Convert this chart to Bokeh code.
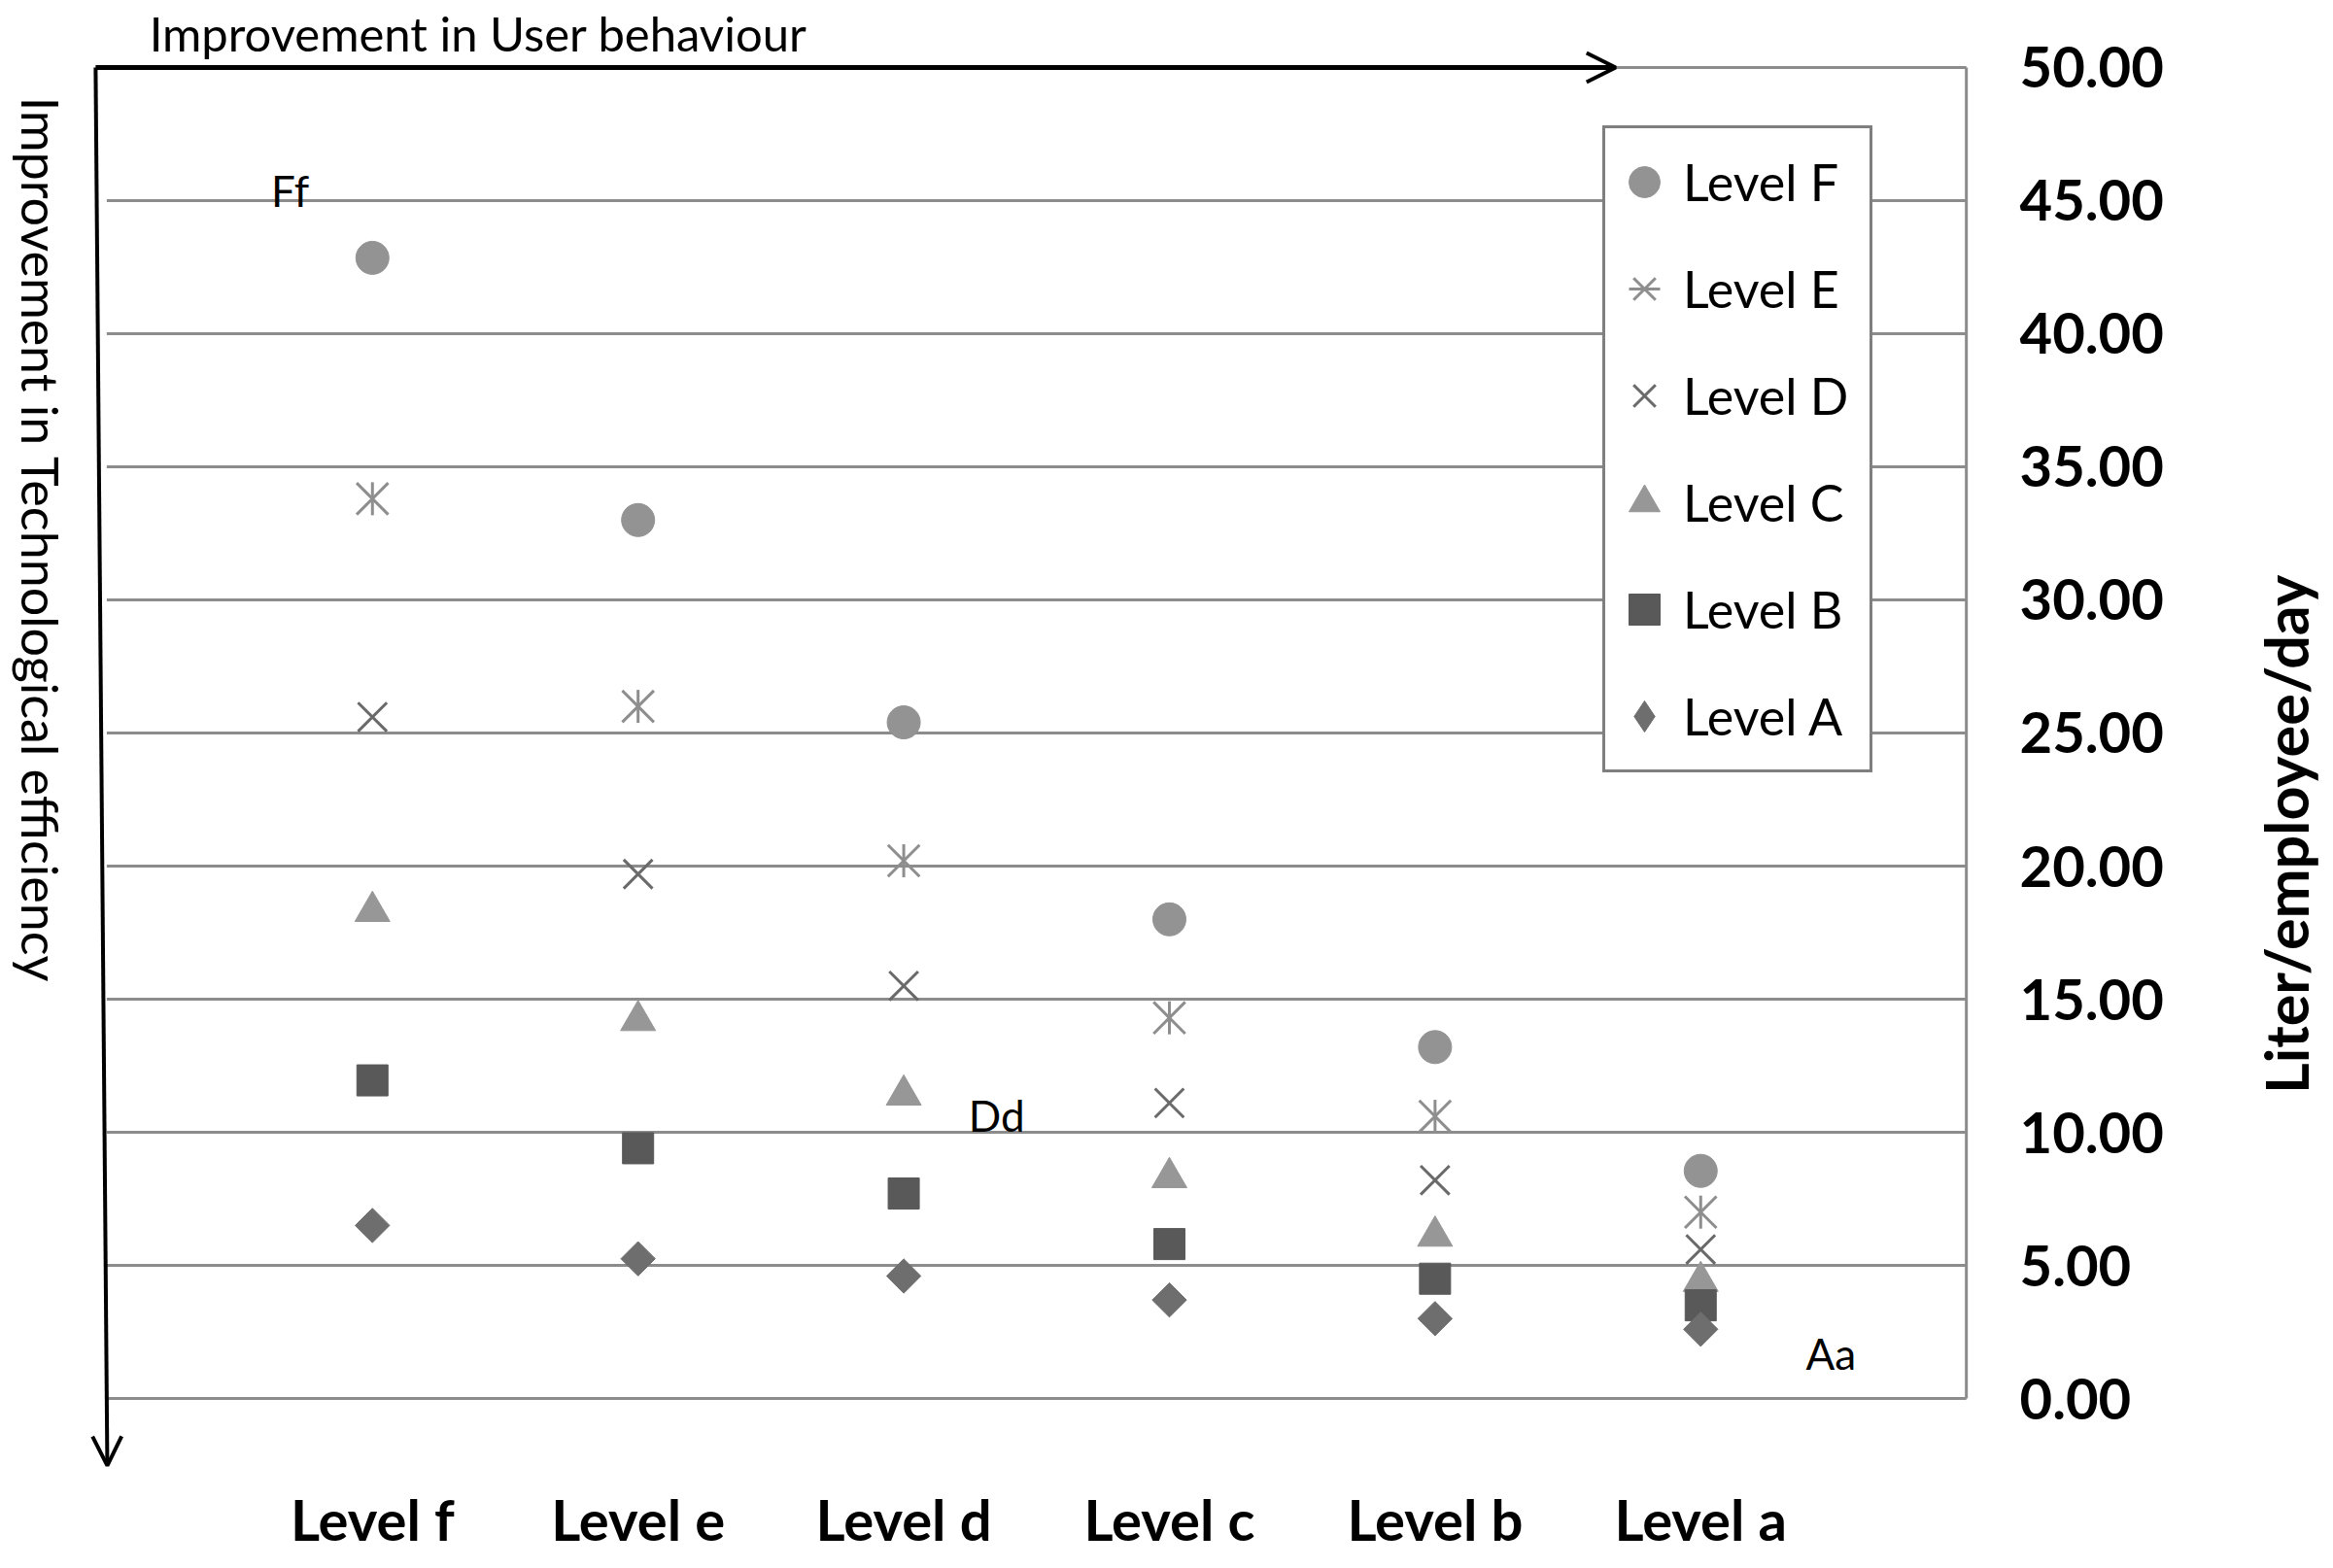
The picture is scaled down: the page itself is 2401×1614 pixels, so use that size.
import math
from bokeh.plotting import figure
from bokeh.layouts import row
from bokeh.models import (Range1d, FixedTicker, NumeralTickFormatter, Label, Arrow,
                          OpenHead, Legend, LegendItem, ColumnDataSource)
from bokeh.embed import file_html
from bokeh.resources import INLINE

# ---- data ----
categories = ["Level f", "Level e", "Level d", "Level c", "Level b", "Level a"]
level_F = [42.85, 33.0, 25.4, 18.0, 13.2, 8.55]
level_E = [33.8, 26.0, 20.2, 14.3, 10.6, 7.0]
level_D = [25.6, 19.7, 15.5, 11.1, 8.2, 5.6]
level_C = [18.3, 14.2, 11.4, 8.3, 6.1, 4.4]
level_B = [11.95, 9.4, 7.7, 5.8, 4.5, 3.5]
level_A = [6.5, 5.25, 4.6, 3.7, 3.0, 2.6]
y_ticks = [0, 5, 10, 15, 20, 25, 30, 35, 40, 45, 50]
y_title = "Liter/employee/day"

FONT = "Lato"
x_idx = list(range(1, len(categories) + 1))
x_lo, x_hi = 0, len(categories) + 1          # plotting area in data units
y_lo, y_hi = y_ticks[0], y_ticks[-1]

W_MAIN, W_SIDE, H = 2303, 90, 1606
p = figure(width=W_MAIN, height=H, output_backend="svg", toolbar_location=None,
           x_range=Range1d(-0.4001, 7.025), y_range=Range1d(-2.591, 52.518),
           y_axis_location="right",
           min_border_left=0, min_border_top=0, min_border_right=273,
           min_border_bottom=96)
p.title.visible = False
p.outline_line_color = None
p.background_fill_color = "white"
p.border_fill_color = "white"
p.xgrid.visible = False
p.ygrid.visible = False

# axes
xa = p.xaxis[0]
xa.ticker = FixedTicker(ticks=x_idx)
xa.major_label_overrides = {i: c for i, c in zip(x_idx, categories)}
xa.axis_line_color = None
xa.major_tick_line_color = None
xa.minor_tick_line_color = None
xa.major_tick_out = 0
xa.major_label_standoff = 18
xa.major_label_text_font = FONT
xa.major_label_text_font_style = "bold"
xa.major_label_text_font_size = "58px"
xa.major_label_text_color = "black"

ya = p.yaxis[0]
ya.ticker = FixedTicker(ticks=y_ticks)
ya.formatter = NumeralTickFormatter(format="0.00")
ya.axis_line_color = None
ya.major_tick_line_color = None
ya.minor_tick_line_color = None
ya.major_tick_out = 0
ya.major_label_standoff = 48
ya.major_label_text_font = FONT
ya.major_label_text_font_style = "bold"
ya.major_label_text_font_size = "58px"
ya.major_label_text_color = "black"

# horizontal grid lines across the plotting area and right border
p.segment(x0=[x_lo] * len(y_ticks), y0=y_ticks, x1=[x_hi] * len(y_ticks), y1=y_ticks,
          line_color="#8c8c8c", line_width=3)
p.segment(x0=[x_hi], y0=[y_lo], x1=[x_hi], y1=[y_hi], line_color="#8c8c8c", line_width=3)

src = ColumnDataSource(dict(x=x_idx, F=level_F, E=level_E, D=level_D,
                            C=level_C, B=level_B, A=level_A))
rF = p.scatter("x", "F", source=src, marker="circle", size=34,
               fill_color="#939393", line_color="#939393")
rE1 = p.scatter("x", "E", source=src, marker="x", size=46,
                line_color="#8e8e8e", line_width=3)
rE2 = p.scatter("x", "E", source=src, marker="dash", size=34, angle=math.pi / 2,
                line_color="#8e8e8e", line_width=3)
rD = p.scatter("x", "D", source=src, marker="x", size=42,
               line_color="#6a6a6a", line_width=3)
rC = p.scatter("x", "C", source=src, marker="triangle", size=36,
               fill_color="#979797", line_color="#979797")
rB = p.scatter("x", "B", source=src, marker="square", size=32,
               fill_color="#595959", line_color="#595959")
rA = p.scatter("x", "A", source=src, marker="square", size=25, angle=math.pi / 4,
               fill_color="#6e6e6e", line_color="#6e6e6e")
# legend swatch for level A (legend glyphs are drawn unrotated)
rA_key = p.scatter("x", "A", source=src, marker="diamond", size=34,
                   fill_color="#6e6e6e", line_color="#6e6e6e", visible=False)

legend = Legend(items=[LegendItem(label="Level F", renderers=[rF]),
                       LegendItem(label="Level E", renderers=[rE1, rE2]),
                       LegendItem(label="Level D", renderers=[rD]),
                       LegendItem(label="Level C", renderers=[rC]),
                       LegendItem(label="Level B", renderers=[rB]),
                       LegendItem(label="Level A", renderers=[rA_key])],
                location=(1649, 715), orientation="vertical")
legend.label_text_font = FONT
legend.label_text_font_size = "52px"
legend.label_text_color = "black"
legend.glyph_width = 80
legend.glyph_height = 110
legend.label_height = 110
legend.label_width = 192
legend.spacing = 0
legend.padding = 0
legend.margin = 0
legend.label_standoff = 0
legend.inactive_fill_alpha = 0
legend.border_line_color = "black"
legend.border_line_width = 3
legend.background_fill_color = "white"
legend.background_fill_alpha = 1
p.add_layout(legend, "center")

# arrows
p.add_layout(Arrow(x_start=-0.042, y_start=50, x_end=5.68, y_end=50,
                   line_color="black", line_width=5,
                   end=OpenHead(size=30, line_width=4, line_color="black")))
p.add_layout(Arrow(x_start=-0.042, y_start=50, x_end=0.002, y_end=-2.52,
                   line_color="black", line_width=4,
                   end=OpenHead(size=30, line_width=4, line_color="black")))

# texts
p.add_layout(Label(x=0.16, y=51.28, text="Improvement in User behaviour",
                   text_font=FONT, text_font_size="49px", text_baseline="middle",
                   text_align="left", text_color="black"))
p.add_layout(Label(x=-0.25, y=48.9, text="Improvement in Technological efficiency",
                   angle=-math.pi / 2, text_font=FONT, text_font_size="52px",
                   text_baseline="middle", text_align="left", text_color="black"))
for tx, ty, tt in [(0.69, 45.4, "Ff"), (3.35, 10.65, "Dd"), (6.49, 1.7, "Aa")]:
    p.add_layout(Label(x=tx, y=ty, text=tt, text_font=FONT, text_font_size="44px",
                       text_baseline="middle", text_align="center", text_color="black"))

# side strip holding the rotated value-axis title (reads bottom to top)
side = figure(width=W_SIDE, height=H, output_backend="svg", toolbar_location=None,
              x_range=Range1d(0, W_SIDE), y_range=Range1d(0, H),
              x_axis_location=None, y_axis_location=None,
              min_border=0, min_border_left=0, min_border_right=0,
              min_border_top=0, min_border_bottom=0)
side.title.visible = False
side.outline_line_color = None
side.xgrid.visible = False
side.ygrid.visible = False
side.background_fill_color = "white"
side.border_fill_color = "white"
side.add_layout(Label(x=49, y=693, text=y_title, angle=math.pi / 2,
                      text_font=FONT, text_font_size="61px", text_font_style="bold",
                      text_align="center", text_baseline="middle", text_color="black"))

layout = row(p, side, spacing=0)
open("out.html", "w").write(file_html(layout, INLINE))
